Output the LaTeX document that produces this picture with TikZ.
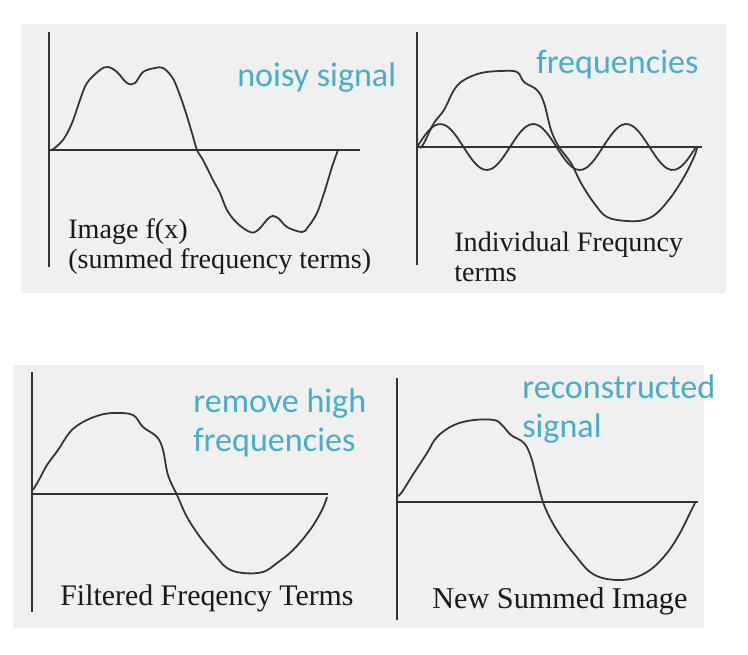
\documentclass[tikz,border=0pt]{standalone}
\usepackage{fontspec}
\setmainfont{Liberation Serif}
\newfontfamily\notefont{Carlito}
\definecolor{noteblue}{HTML}{4BACC6}
\definecolor{scangray}{HTML}{F0F0F0}
\definecolor{inkgray}{HTML}{333333}

\begin{document}
\begin{tikzpicture}[x=0.02cm, y=-0.02cm,
        axis/.style={draw=inkgray, line width=1.1pt},
        curve/.style={draw=inkgray, line width=1pt},
        scanlabel/.style={anchor=north west, inner sep=0pt, align=left, font=\fontsize{16}{17}\selectfont, text=black!90},
        note/.style={anchor=north west, inner sep=0pt, align=left, font=\notefont\fontsize{19.4}{22.5}\selectfont, text=noteblue}]
        \useasboundingbox (0, 0) rectangle (748, 654);
        \fill[scangray] (21, 24) rectangle (726, 293);
        \fill[scangray] (13, 365) rectangle (704, 628);

        \draw[axis] (49, 32) -- (49, 267);
        \draw[axis] (49, 150) -- (360, 150);
        \draw[axis] (417, 32) -- (417, 265);
        \draw[axis] (417, 147) -- (702, 147);
        \draw[axis] (32, 372) -- (32, 612);
        \draw[axis] (32, 494) -- (328, 494);
        \draw[axis] (397, 378) -- (397, 620);
        \draw[axis] (397, 502) -- (698, 502);

        \draw[curve] plot[smooth, tension=0.6] coordinates {(52, 150) (63, 140) (72, 123) (80, 100) (87, 83) (100, 70) (108, 67) (117, 72) (127, 83) (135, 83) (143, 72) (155, 68) (163, 68) (172, 77) (178, 90) (185, 110) (192, 133) (197, 150) (203, 160) (213, 180) (220, 193) (227, 210) (237, 223) (250, 232) (258, 230) (270, 217) (278, 218) (287, 227) (302, 232) (308, 227) (317, 213) (325, 190) (332, 167) (338, 150)};
        \draw[curve] plot[smooth, tension=0.6] coordinates {(420, 148) (424, 143) (434, 123) (444, 110) (454, 90) (464, 80) (481, 73) (501, 71) (517, 72) (524, 82) (537, 90) (544, 103) (551, 130) (559, 147) (571, 163) (581, 183) (594, 203) (607, 217) (627, 221) (644, 220) (657, 213) (671, 197) (684, 177) (694, 157) (697, 148)};
        \draw[curve] plot[domain=417:696, samples=80, smooth] (\x, {147 - 23*sin(3.871*(\x - 417))});
        \draw[curve] plot[smooth, tension=0.6] coordinates {(33, 490) (40, 478) (47, 465) (58, 450) (70, 432) (83, 422) (100, 415) (115, 413) (133, 415) (143, 427) (157, 437) (163, 450) (168, 475) (177, 495) (187, 517) (200, 537) (213, 553) (227, 568) (243, 573) (263, 572) (277, 563) (293, 550) (310, 530) (322, 510) (327, 497)};
        \draw[curve] plot[smooth, tension=0.6] coordinates {(398, 496) (402, 492) (414, 473) (427, 453) (437, 437) (454, 425) (474, 420) (494, 420) (502, 425) (511, 435) (524, 443) (531, 457) (537, 480) (543, 502) (551, 520) (562, 538) (575, 555) (590, 572) (607, 579) (630, 579) (650, 570) (667, 553) (680, 533) (690, 513) (695, 503)};

        \node[scanlabel] (image-fx) at (68, 218) {Image f(x)\\(summed frequency terms)};
        \node[scanlabel] (indiv-terms) at (454, 232) {Individual Frequncy\\terms};
        \node[scanlabel, font=\fontsize{17}{18}\selectfont] (filtered-terms) at (60, 584) {Filtered Freqency Terms};
        \node[scanlabel, font=\fontsize{17.2}{18}\selectfont] (new-summed) at (432, 587) {New Summed Image};

        \node[note] (noisy) at (237, 62) {noisy signal};
        \node[note] (freqs) at (536, 50) {frequencies};
        \node[note] (remove-high) at (193, 388) {remove high\\frequencies};
        \node[note] (rebuilt) at (522, 374) {reconstructed\\signal};
    \end{tikzpicture}
\end{document}
